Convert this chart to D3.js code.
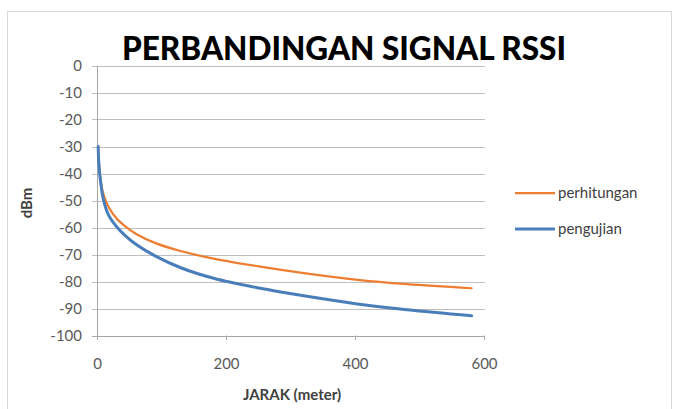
<!DOCTYPE html>
<html><head><meta charset="utf-8">
<script src="https://cdn.jsdelivr.net/npm/d3@7"></script>
<style>body{margin:0;background:#fff}svg{display:block}text{font-family:Lato,"Open Sans",sans-serif}</style>
</head><body><svg id="c" width="674" height="409"></svg>
<script>
const title = "PERBANDINGAN SIGNAL RSSI";
const xTitle = "JARAK (meter)";
const yTitle = "dBm";
const distances = [1,2,4,9,17,30,43,60,90,130,180,250,320,400,480,580];
const perhitungan = [-30,-35,-41,-47.5,-52.3,-56.8,-59.6,-62.4,-65.8,-68.8,-71.5,-74.4,-76.9,-79.3,-81,-82.5];
const pengujian = [-30,-36,-41.5,-49.5,-55.3,-59.8,-63,-66.3,-70.6,-75,-78.8,-82.4,-85.3,-88.2,-90.5,-92.7];
const seriesNames = ["perhitungan","pengujian"];
const seriesColors = ["#ED7D31","#4A7EBB"];
const xTicks = [0,200,400,600];
const yTicks = [0,-10,-20,-30,-40,-50,-60,-70,-80,-90,-100];

const svg = d3.select("#c");
svg.append("rect").attr("x",7.5).attr("y",11.5).attr("width",664).attr("height",410)
  .attr("fill","#fff").attr("stroke","#D9D9D9");

const x = d3.scaleLinear().domain([0,600]).range([97.5,484.5]);
const y = d3.scaleLinear().domain([-100,0]).range([335.5,65.5]);

svg.append("g").selectAll("line").data(yTicks).join("line")
  .attr("x1",92).attr("x2",485).attr("y1",d=>Math.round(y(d))+0.5).attr("y2",d=>Math.round(y(d))+0.5)
  .attr("stroke",d=>d===-100?"#A6A6A6":"#BFBFBF").attr("stroke-width",1);
svg.append("line").attr("x1",97.5).attr("x2",97.5).attr("y1",65.5).attr("y2",340)
  .attr("stroke","#A6A6A6");
svg.append("g").selectAll("line").data(xTicks).join("line")
  .attr("x1",d=>x(d)).attr("x2",d=>x(d)).attr("y1",335.5).attr("y2",340).attr("stroke","#A6A6A6");

svg.append("g").selectAll("text").data(yTicks).join("text")
  .attr("x",82).attr("y",d=>y(d)).attr("dy","0.36em").attr("text-anchor","end")
  .attr("font-size",15).attr("fill","#595959").text(d=>d);
svg.append("g").selectAll("text").data(xTicks).join("text")
  .attr("x",d=>x(d)).attr("y",364).attr("dy","0.36em").attr("text-anchor","middle")
  .attr("font-size",15).attr("fill","#595959").text(d=>d);

svg.append("text").attr("x",344).attr("y",60).attr("text-anchor","middle")
  .attr("font-size",32).attr("font-weight",900).attr("fill","#000")
  .attr("textLength",444).attr("lengthAdjust","spacingAndGlyphs").text(title);
svg.append("text").attr("x",292).attr("y",395).attr("dy","0.36em").attr("text-anchor","middle")
  .attr("font-size",15).attr("font-weight","bold").attr("fill","#404040").text(xTitle);
svg.append("text").attr("transform","translate(27,203) rotate(-90)").attr("dy","0.36em")
  .attr("text-anchor","middle").attr("font-size",15).attr("font-weight","bold").attr("fill","#404040").text(yTitle);

const line = d3.line().x(d=>x(d[0])).y(d=>y(d[1])).curve(d3.curveCatmullRom.alpha(0.5));
[perhitungan,pengujian].forEach((vals,i)=>{
  svg.append("path").datum(distances.map((d,j)=>[d,vals[j]]))
    .attr("fill","none").attr("stroke",seriesColors[i]).attr("stroke-width",i===0?2.25:3)
    .attr("stroke-linejoin","round").attr("stroke-linecap","round").attr("d",line);
});

const lg = svg.append("g").selectAll("g").data(seriesNames).join("g")
  .attr("transform",(d,i)=>`translate(515,${193+i*36})`);
lg.append("line").attr("x1",0).attr("x2",40).attr("stroke",(d,i)=>seriesColors[i]).attr("stroke-width",(d,i)=>i===0?2.25:3);
lg.append("text").attr("x",43).attr("dy","0.3em").attr("font-size",15).attr("fill","#404040").text(d=>d);
</script></body></html>
